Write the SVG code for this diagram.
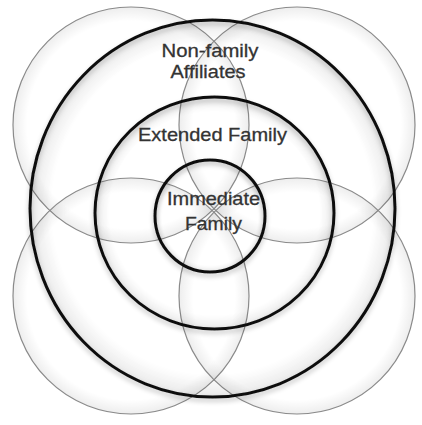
<svg xmlns="http://www.w3.org/2000/svg" width="422" height="425" viewBox="0 0 422 425">
  <defs>
    <radialGradient id="rimShade" cx="0.5" cy="0.5" r="0.5">
      <stop offset="0.88" stop-color="#000" stop-opacity="0"/>
      <stop offset="1" stop-color="#000" stop-opacity="0.07"/>
    </radialGradient>
    <filter id="soft" x="-10%" y="-10%" width="120%" height="125%">
      <feGaussianBlur in="SourceAlpha" stdDeviation="2.5"/>
      <feOffset dx="0" dy="3" result="sh"/>
      <feComponentTransfer in="sh" result="shf">
        <feFuncA type="linear" slope="0.25"/>
      </feComponentTransfer>
      <feMerge>
        <feMergeNode in="shf"/>
        <feMergeNode in="SourceGraphic"/>
      </feMerge>
    </filter>
  </defs>
  <style>
    .petal { fill: url(#rimShade); stroke: #8a8a8a; stroke-width: 1.2; }
    .ring { fill: url(#rimShade); stroke: #111; stroke-width: 3; filter: url(#soft); }
    .label { font-family: "Liberation Sans", Arial, Helvetica, sans-serif; font-size: 18.5px; fill: #333; stroke: #333; stroke-width: 0.3; text-anchor: middle; }
  </style>

  <rect width="422" height="425" fill="#fff"/>

  <!-- four overlapping outer circles -->
  <g id="petals">
    <g id="petal-top-left"><circle class="petal" cx="131" cy="125" r="118"/></g>
    <g id="petal-top-right"><circle class="petal" cx="297" cy="125" r="118"/></g>
    <g id="petal-bottom-left"><circle class="petal" cx="131" cy="296" r="118"/></g>
    <g id="petal-bottom-right"><circle class="petal" cx="297" cy="296" r="118"/></g>
  </g>

  <!-- concentric rings, outermost first -->
  <g id="non-family-affiliates">
    <ellipse class="ring" cx="212.5" cy="208.5" rx="182.5" ry="188.5"/>
    <text class="label" x="210" y="57" textLength="97" lengthAdjust="spacingAndGlyphs">Non-family</text>
    <text class="label" x="208" y="78" textLength="75" lengthAdjust="spacingAndGlyphs">Affiliates</text>
  </g>
  <g id="extended-family">
    <ellipse class="ring" cx="214.5" cy="213" rx="119.5" ry="116"/>
    <text class="label" x="212.5" y="141" textLength="149" lengthAdjust="spacingAndGlyphs">Extended Family</text>
  </g>
  <g id="immediate-family">
    <ellipse class="ring" cx="210" cy="216" rx="55" ry="56"/>
    <text class="label" x="213.5" y="205" textLength="93" lengthAdjust="spacingAndGlyphs">Immediate</text>
    <text class="label" x="213.5" y="230" textLength="57" lengthAdjust="spacingAndGlyphs">Family</text>
  </g>
</svg>
